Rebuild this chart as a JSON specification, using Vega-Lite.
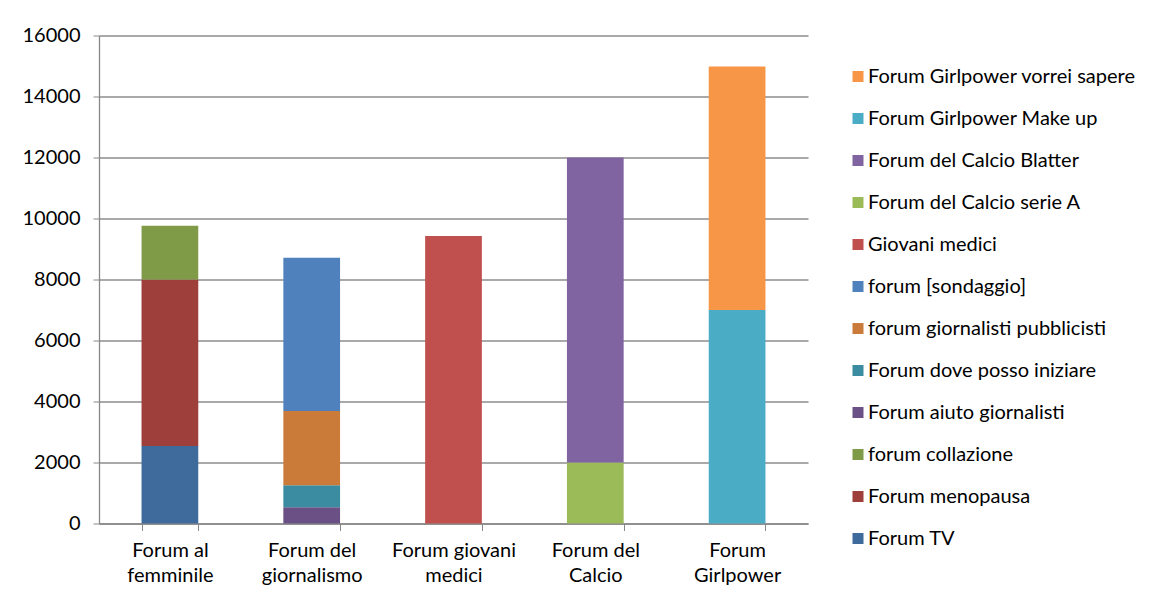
{
  "$schema": "https://vega.github.io/schema/vega-lite/v6.json",
  "autosize": {"type": "none"},
  "width": 709,
  "height": 488,
  "padding": {"left": 99, "top": 35.5, "right": 345, "bottom": 78.5},
  "background": "white",
  "data": {
    "values": [
      {"forum": "Forum al femminile", "series": "Forum TV", "value": 2540},
      {"forum": "Forum al femminile", "series": "Forum menopausa", "value": 5460},
      {"forum": "Forum al femminile", "series": "forum collazione", "value": 1760},
      {"forum": "Forum del giornalismo", "series": "Forum aiuto giornalisti", "value": 535},
      {"forum": "Forum del giornalismo", "series": "Forum dove posso iniziare", "value": 720},
      {"forum": "Forum del giornalismo", "series": "forum giornalisti pubblicisti", "value": 2430},
      {"forum": "Forum del giornalismo", "series": "forum [sondaggio]", "value": 5025},
      {"forum": "Forum giovani medici", "series": "Giovani medici", "value": 9430},
      {"forum": "Forum del Calcio", "series": "Forum del Calcio serie A", "value": 2000},
      {"forum": "Forum del Calcio", "series": "Forum del Calcio Blatter", "value": 10000},
      {"forum": "Forum Girlpower", "series": "Forum Girlpower Make up", "value": 7000},
      {"forum": "Forum Girlpower", "series": "Forum Girlpower vorrei sapere", "value": 7980}
    ]
  },
  "transform": [
    {"calculate": "indexof(['Forum TV', 'Forum menopausa', 'forum collazione', 'Forum aiuto giornalisti', 'Forum dove posso iniziare', 'forum giornalisti pubblicisti', 'forum [sondaggio]', 'Giovani medici', 'Forum del Calcio serie A', 'Forum del Calcio Blatter', 'Forum Girlpower Make up', 'Forum Girlpower vorrei sapere'], datum.series)", "as": "stackRank"}
  ],
  "mark": {"type": "bar"},
  "encoding": {
    "x": {
      "field": "forum",
      "type": "nominal",
      "sort": ["Forum al femminile", "Forum del giornalismo", "Forum giovani medici", "Forum del Calcio", "Forum Girlpower"],
      "scale": {"paddingInner": 0.6, "paddingOuter": 0.3},
      "axis": {
        "title": null,
        "labelAngle": 0,
        "labelExpr": "[substring(datum.label, 0, lastindexof(datum.label, ' ')), substring(datum.label, lastindexof(datum.label, ' ') + 1)]",
        "labelFont": "Lato",
        "labelFontSize": 20,
        "labelColor": "#000000",
        "labelLineHeight": 25,
        "labelPadding": 10,
        "tickBand": "extent",
        "tickSize": 7,
        "tickColor": "#888888",
        "domainColor": "#888888",
        "domainWidth": 1.3,
        "grid": false
      }
    },
    "y": {
      "field": "value",
      "type": "quantitative",
      "aggregate": "sum",
      "stack": "zero",
      "scale": {"domain": [0, 16000], "nice": false},
      "axis": {
        "title": null,
        "values": [0, 2000, 4000, 6000, 8000, 10000, 12000, 14000, 16000],
        "format": "d",
        "labelFont": "Lato",
        "labelFontSize": 20,
        "labelColor": "#000000",
        "labelPadding": 13,
        "tickSize": 6,
        "tickColor": "#888888",
        "domainColor": "#888888",
        "domainWidth": 1.3,
        "grid": true,
        "gridColor": "#8c8c8c",
        "gridWidth": 1.3
      }
    },
    "order": {"field": "stackRank", "type": "quantitative", "aggregate": "min", "sort": "ascending"},
    "color": {
      "field": "series",
      "type": "nominal",
      "scale": {
        "domain": ["Forum TV", "Forum menopausa", "forum collazione", "Forum aiuto giornalisti", "Forum dove posso iniziare", "forum giornalisti pubblicisti", "forum [sondaggio]", "Giovani medici", "Forum del Calcio serie A", "Forum del Calcio Blatter", "Forum Girlpower Make up", "Forum Girlpower vorrei sapere"],
        "range": ["#3F6A9C", "#9E3F3C", "#809B48", "#6A5085", "#3B8BA1", "#CB7B39", "#4F81BD", "#C0504D", "#9BBB59", "#8064A2", "#4BACC6", "#F79646"]
      },
      "legend": {
        "title": null,
        "orient": "none",
        "legendX": 749,
        "legendY": 31,
        "padding": 0,
        "values": ["Forum Girlpower vorrei sapere", "Forum Girlpower Make up", "Forum del Calcio Blatter", "Forum del Calcio serie A", "Giovani medici", "forum [sondaggio]", "forum giornalisti pubblicisti", "Forum dove posso iniziare", "Forum aiuto giornalisti", "forum collazione", "Forum menopausa", "Forum TV"],
        "symbolType": "square",
        "symbolSize": 121,
        "symbolStrokeWidth": 0,
        "labelFont": "Lato",
        "labelFontSize": 20,
        "labelColor": "#000000",
        "labelOffset": 0,
        "rowPadding": 22,
        "labelLimit": 400
      }
    }
  },
  "config": {
    "view": {"stroke": null},
    "font": "Lato"
  }
}
